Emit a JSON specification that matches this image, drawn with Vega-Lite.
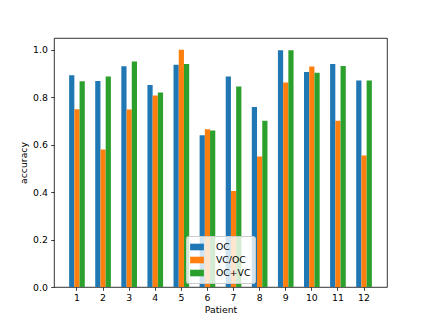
{
  "$schema": "https://vega.github.io/schema/vega-lite/v6.json",
  "width": 333,
  "height": 249,
  "autosize": {"type": "none"},
  "padding": {"left": 54, "top": 38, "right": 43, "bottom": 36},
  "background": "white",
  "config": {
    "font": "DejaVu Sans",
    "view": {"stroke": "black", "strokeWidth": 0.8},
    "axis": {
      "grid": false,
      "domain": false,
      "labelFont": "DejaVu Sans",
      "titleFont": "DejaVu Sans",
      "labelFontSize": 9.3,
      "titleFontSize": 9.3,
      "titleFontWeight": "normal",
      "labelColor": "black",
      "titleColor": "black",
      "tickColor": "black",
      "tickSize": 3.3,
      "tickWidth": 0.75,
      "labelPadding": 3.3
    }
  },
  "data": {
    "values": [
      {"patient": 1, "method": "OC", "accuracy": 0.893},
      {"patient": 1, "method": "VC/OC", "accuracy": 0.75},
      {"patient": 1, "method": "OC+VC", "accuracy": 0.868},
      {"patient": 2, "method": "OC", "accuracy": 0.869},
      {"patient": 2, "method": "VC/OC", "accuracy": 0.58},
      {"patient": 2, "method": "OC+VC", "accuracy": 0.888},
      {"patient": 3, "method": "OC", "accuracy": 0.931},
      {"patient": 3, "method": "VC/OC", "accuracy": 0.748},
      {"patient": 3, "method": "OC+VC", "accuracy": 0.951},
      {"patient": 4, "method": "OC", "accuracy": 0.852},
      {"patient": 4, "method": "VC/OC", "accuracy": 0.808},
      {"patient": 4, "method": "OC+VC", "accuracy": 0.82},
      {"patient": 5, "method": "OC", "accuracy": 0.937},
      {"patient": 5, "method": "VC/OC", "accuracy": 1.0},
      {"patient": 5, "method": "OC+VC", "accuracy": 0.94},
      {"patient": 6, "method": "OC", "accuracy": 0.64},
      {"patient": 6, "method": "VC/OC", "accuracy": 0.665},
      {"patient": 6, "method": "OC+VC", "accuracy": 0.66},
      {"patient": 7, "method": "OC", "accuracy": 0.888},
      {"patient": 7, "method": "VC/OC", "accuracy": 0.405},
      {"patient": 7, "method": "OC+VC", "accuracy": 0.845},
      {"patient": 8, "method": "OC", "accuracy": 0.759},
      {"patient": 8, "method": "VC/OC", "accuracy": 0.55},
      {"patient": 8, "method": "OC+VC", "accuracy": 0.701},
      {"patient": 9, "method": "OC", "accuracy": 0.998},
      {"patient": 9, "method": "VC/OC", "accuracy": 0.862},
      {"patient": 9, "method": "OC+VC", "accuracy": 0.998},
      {"patient": 10, "method": "OC", "accuracy": 0.907},
      {"patient": 10, "method": "VC/OC", "accuracy": 0.93},
      {"patient": 10, "method": "OC+VC", "accuracy": 0.903},
      {"patient": 11, "method": "OC", "accuracy": 0.94},
      {"patient": 11, "method": "VC/OC", "accuracy": 0.701},
      {"patient": 11, "method": "OC+VC", "accuracy": 0.932},
      {"patient": 12, "method": "OC", "accuracy": 0.871},
      {"patient": 12, "method": "VC/OC", "accuracy": 0.555},
      {"patient": 12, "method": "OC+VC", "accuracy": 0.871}
    ]
  },
  "mark": {"type": "bar"},
  "encoding": {
    "x": {
      "field": "patient",
      "type": "ordinal",
      "scale": {"paddingInner": 0.4, "paddingOuter": 0.58},
      "axis": {"labelAngle": 0, "title": "Patient", "titlePadding": 3}
    },
    "xOffset": {
      "field": "method",
      "type": "nominal",
      "sort": ["OC", "VC/OC", "OC+VC"],
      "scale": {"paddingInner": 0, "paddingOuter": 0}
    },
    "y": {
      "field": "accuracy",
      "type": "quantitative",
      "scale": {"domain": [0, 1.05], "nice": false, "zero": true},
      "axis": {"values": [0, 0.2, 0.4, 0.6, 0.8, 1.0], "format": ".1f", "title": "accuracy", "titlePadding": 4}
    },
    "color": {
      "field": "method",
      "type": "nominal",
      "sort": ["OC", "VC/OC", "OC+VC"],
      "scale": {"domain": ["OC", "VC/OC", "OC+VC"], "range": ["#1f77b4", "#ff7f0e", "#2ca02c"]},
      "legend": {
        "title": null,
        "orient": "none",
        "legendX": 132,
        "legendY": 198,
        "symbolType": "M-1,-0.48H1V0.48H-1Z",
        "symbolSize": 190,
        "symbolStrokeWidth": 0,
        "symbolOpacity": 1,
        "labelFontSize": 9.3,
        "labelFont": "DejaVu Sans",
        "labelColor": "black",
        "labelOffset": 12,
        "rowPadding": 0,
        "padding": 4,
        "fillColor": "rgba(255,255,255,0.8)",
        "strokeColor": "#cccccc",
        "cornerRadius": 2
      }
    }
  }
}
